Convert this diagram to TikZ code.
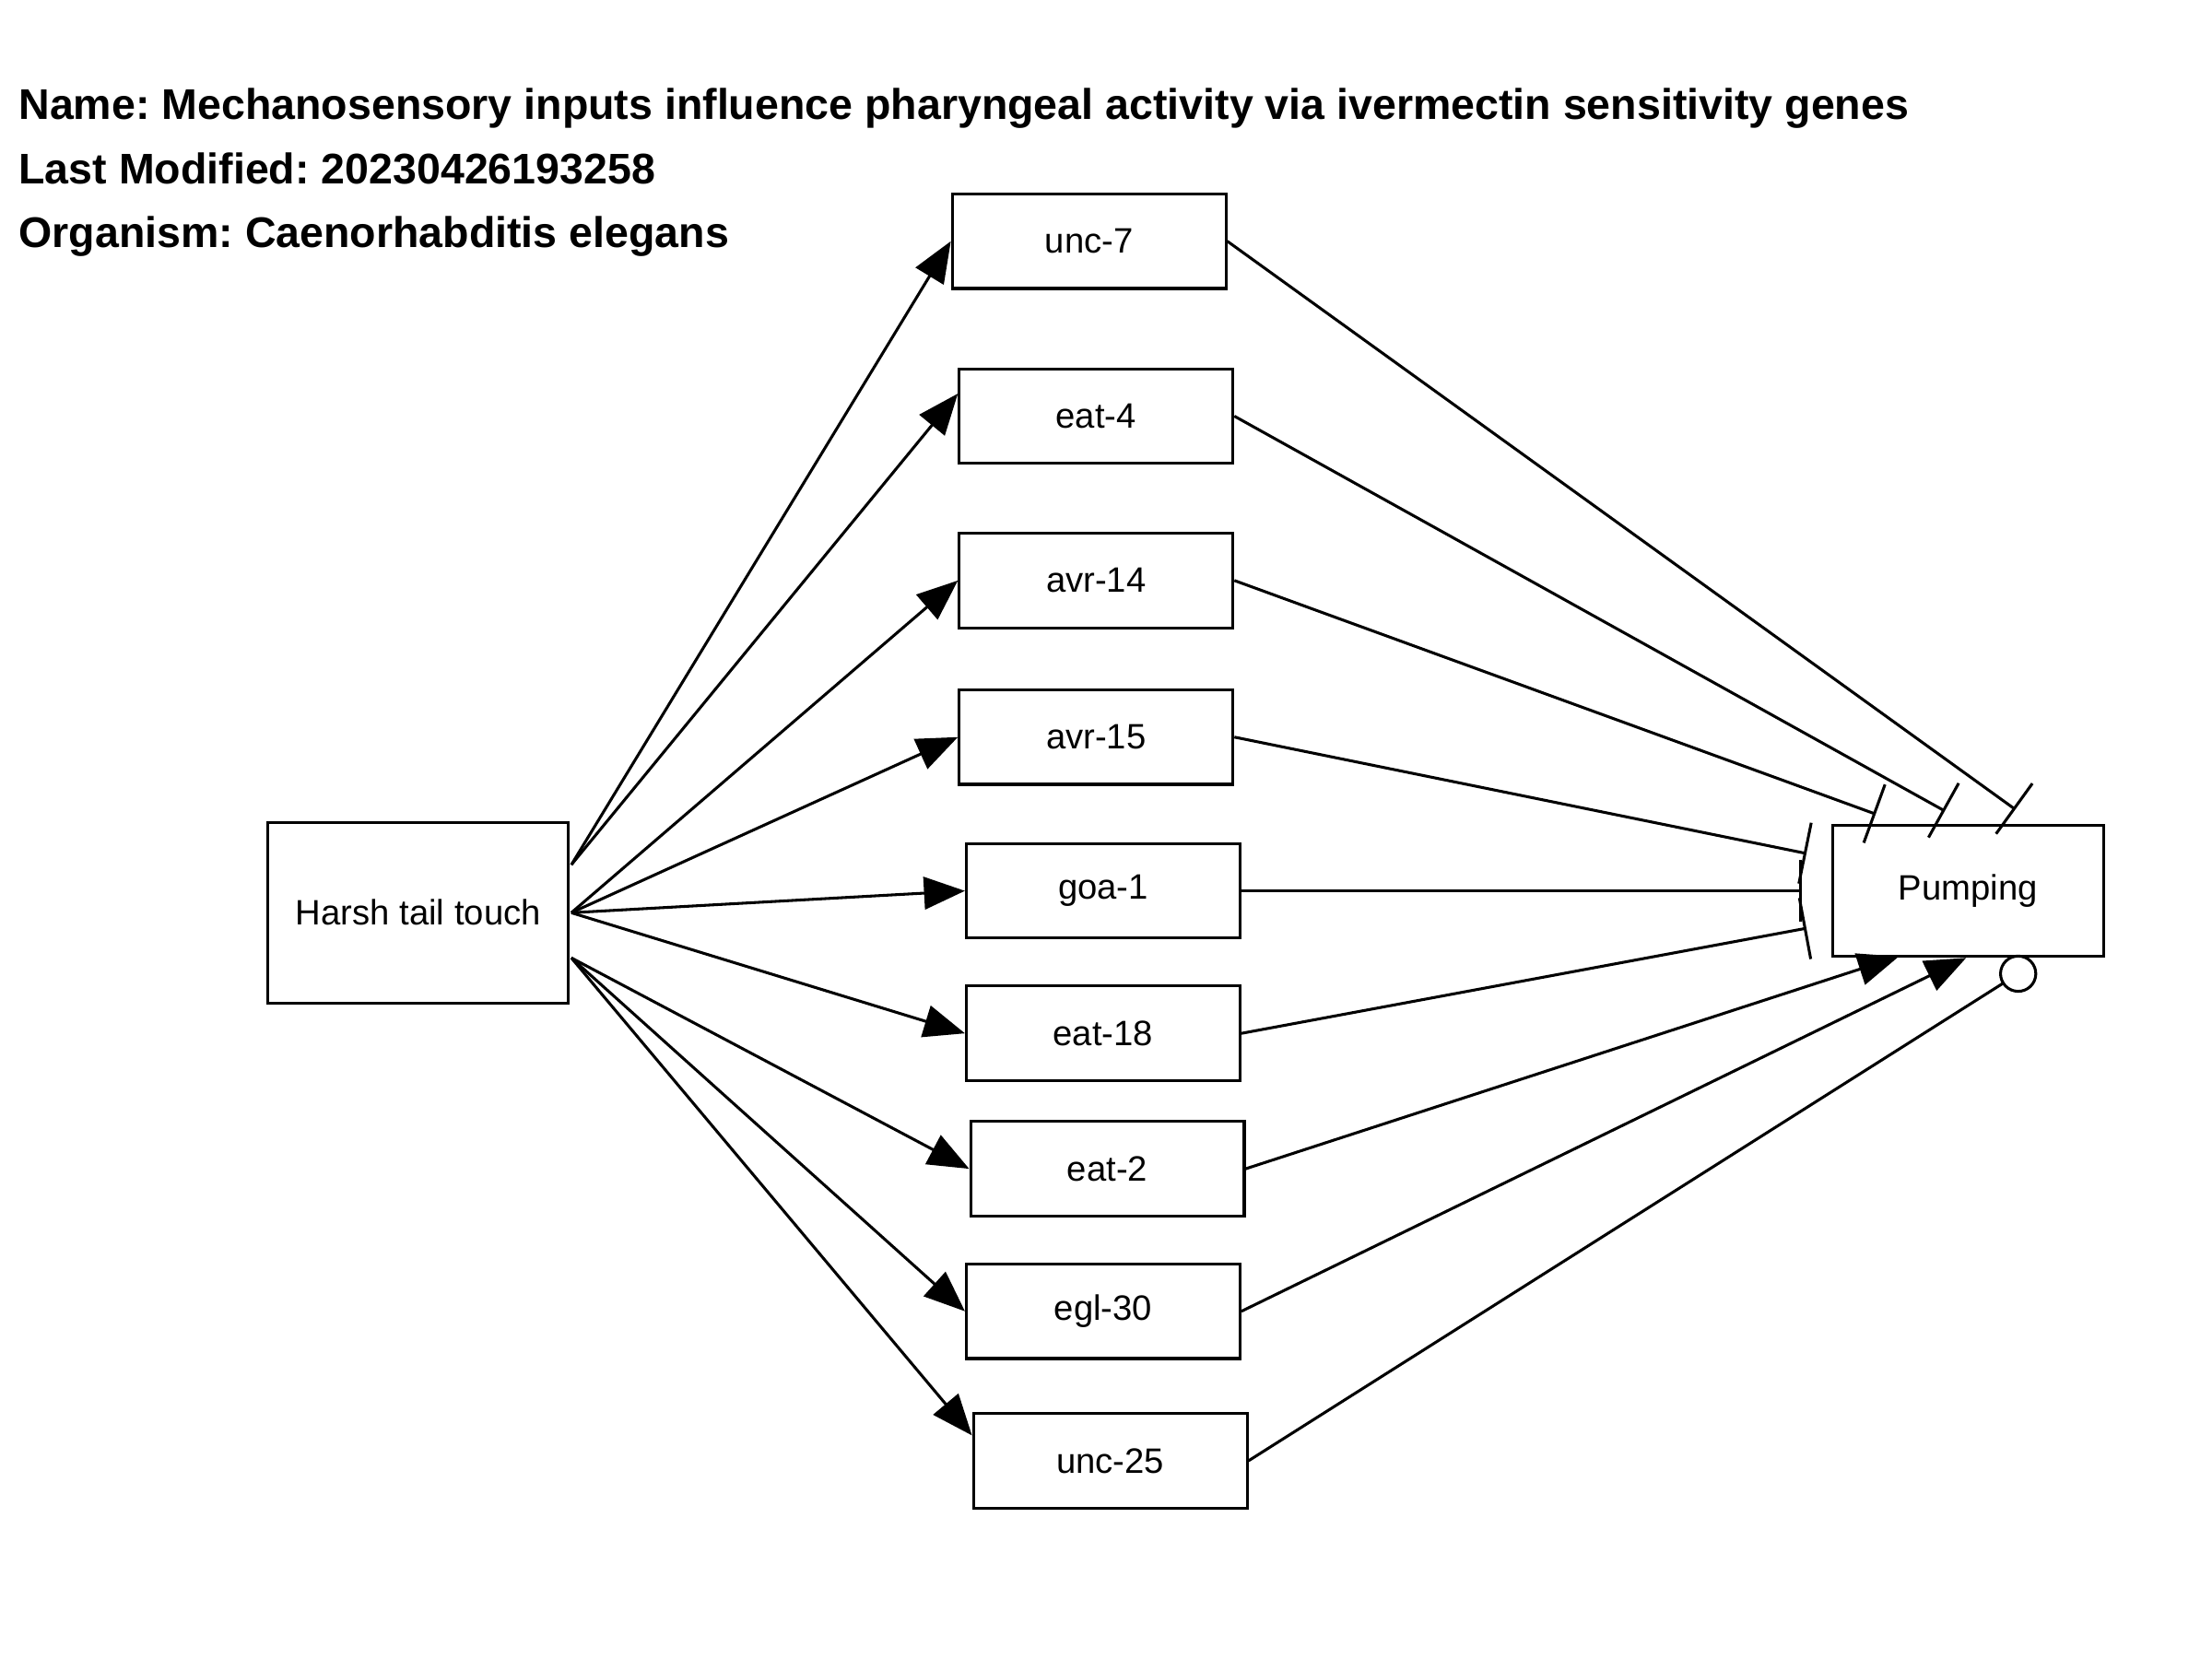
\documentclass[tikz,border=0pt]{standalone}
\usepackage{fontspec}
\setmainfont{Liberation Sans}
\usetikzlibrary{arrows.meta,calc}
\frenchspacing
\begin{document}
\begin{tikzpicture}[x=0.5pt,y=-0.5pt,
  box/.style={draw, line width=1pt, inner sep=0pt, minimum width=97pt, minimum height=33.5pt, font=\fontsize{12.5}{15}\selectfont},
  title/.style={anchor=base west, inner sep=0pt, font=\bfseries\fontsize{15.2}{18}\selectfont},
  edge/.style={line width=1pt},
  act/.style={edge, -{Triangle[length=14.5pt,width=11.5pt]}},
  inh/.style={edge, -{Bar[width=22pt]}},
  circ/.style={edge, -{Circle[open,length=13.5pt,line width=1pt]}}]
\path[use as bounding box, fill=white] (0,0) rectangle (1568,1176);

\node[title] (t1) at (13,84.5) {Name: Mechanosensory inputs influence pharyngeal activity via ivermectin sensitivity genes};
\node[title] (t2) at (13,130.2) {Last Modified: 20230426193258};
\node[title] (t3) at (13,175.3) {Organism: Caenorhabditis elegans};

\node[box, minimum width=106.5pt, minimum height=64pt] (htt) at (296.5,647) {Harsh tail touch};
\node[box, minimum width=96pt, minimum height=46.5pt] (pump) at (1395,631.5) {Pumping};

\node[box] (unc7)  at (772,171)    {unc-7};
\node[box] (eat4)  at (777,295)    {eat-4};
\node[box] (avr14) at (777,411.5)  {avr-14};
\node[box] (avr15) at (777,522.5)  {avr-15};
\node[box] (goa1)  at (782,631.5)  {goa-1};
\node[box] (eat18) at (782,732.5)  {eat-18};
\node[box] (eat2)  at (785,828.5)  {eat-2};
\node[box] (egl30) at (782,929.5)  {egl-30};
\node[box] (unc25) at (787,1035.5) {unc-25};

\coordinate (hu) at ($(htt.east)+(1,-34)$);
\coordinate (hm) at ($(htt.east)+(1,0)$);
\coordinate (hl) at ($(htt.east)+(1,32)$);

\draw[act] (hu) -- (unc7.west);
\draw[act] (hu) -- ($(eat4.west)+(0,-16)$);
\draw[act] (hm) -- (avr14.west);
\draw[act] (hm) -- (avr15.west);
\draw[act] (hm) -- (goa1.west);
\draw[act] (hm) -- (eat18.west);
\draw[act] (hl) -- (eat2.west);
\draw[act] (hl) -- (egl30.west);
\draw[act] (hl) -- ($(unc25.west)+(0,-18)$);

\draw[inh] (unc7.east)  -- ($(pump.center)+(33.6,-57.7)$);
\draw[inh] (eat4.east)  -- ($(pump.center)+(-16.4,-56.6)$);
\draw[inh] (avr14.east) -- ($(pump.center)+(-65.4,-54.4)$);
\draw[inh] (avr15.east) -- ($(pump.center)+(-114.5,-26.5)$);
\draw[inh] (goa1.east)  -- ($(pump.center)+(-118,0)$);
\draw[inh] (eat18.east) -- ($(pump.center)+(-114.5,26.5)$);
\draw[act] (eat2.east)  -- ($(pump.center)+(-49,46.5)$);
\draw[act] (egl30.east) -- ($(pump.center)+(-1.3,47.5)$);
\draw[circ] (unc25.east) -- ($(pump.center)+(47,51.5)$);
\end{tikzpicture}
\end{document}
